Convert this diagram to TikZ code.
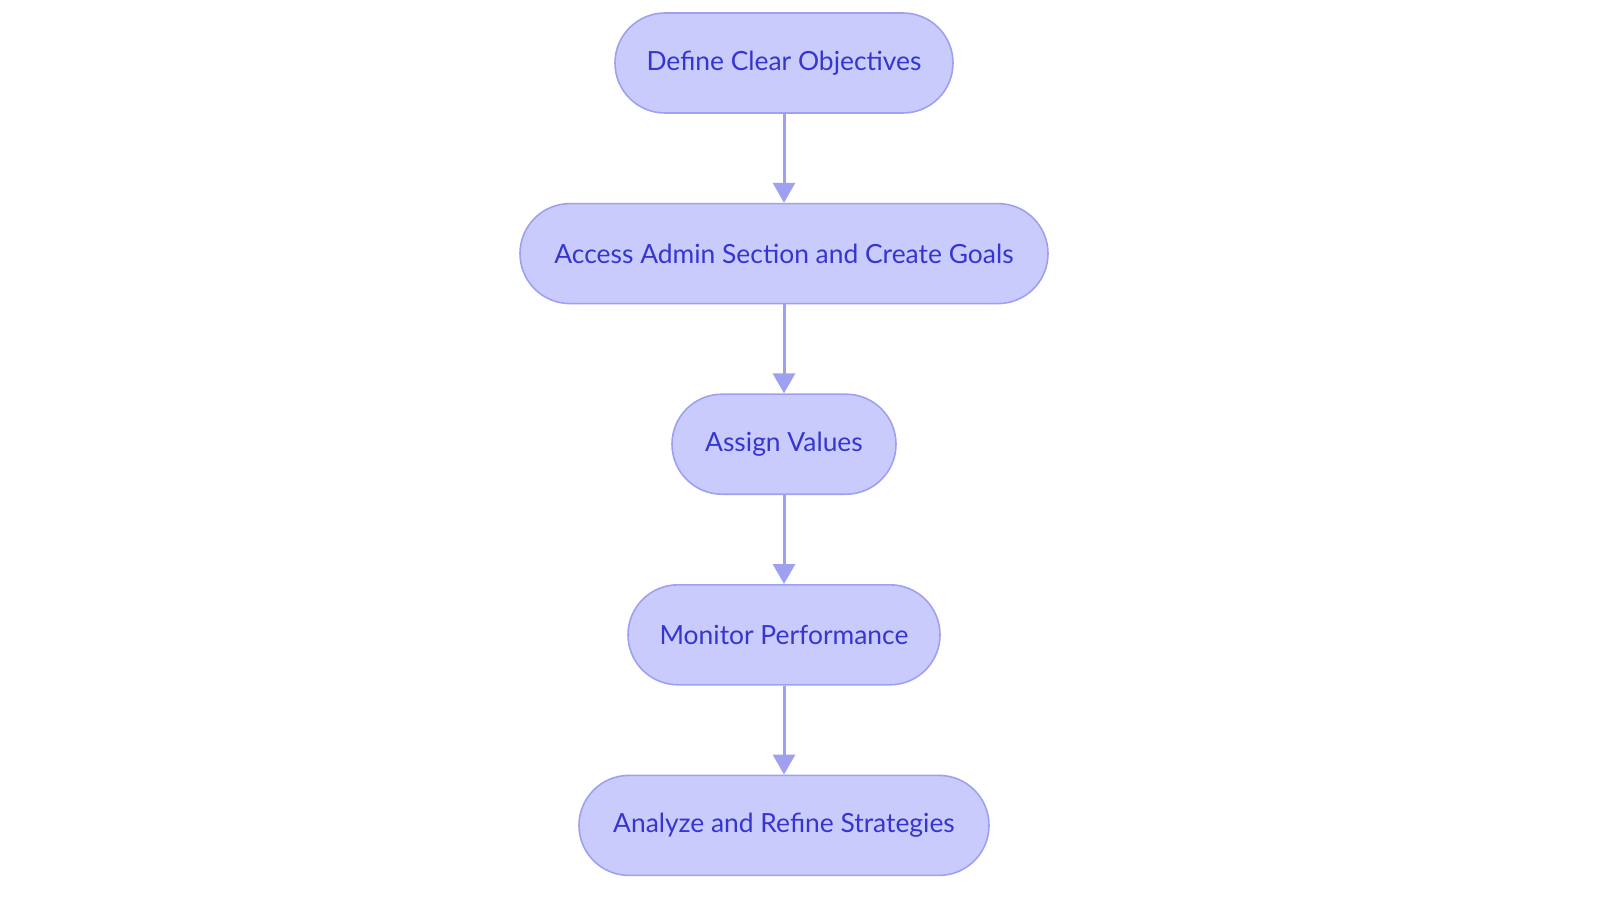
\documentclass[tikz,border=0pt]{standalone}
\usepackage{fontspec}
\setmainfont{Lato}
\usetikzlibrary{positioning,arrows.meta}
\definecolor{stepfill}{HTML}{CACBFD}
\definecolor{stepdraw}{HTML}{9FA0F0}
\definecolor{steptext}{HTML}{3535CF}
\tikzset{
  stage/.style={rectangle, rounded corners=25pt, fill=stepfill, draw=stepdraw, thick,
    minimum height=50pt, text=steptext, font=\fontsize{13.2}{16}\selectfont},
  flow/.style={draw=stepdraw, line width=1.5pt, -{Triangle[width=11pt,length=10pt]}}
}
\begin{document}
\begin{tikzpicture}[node distance=44.5pt]
  \useasboundingbox (0,0) rectangle (800pt,-451.5pt);
  \node (objectives) at (392pt,-31.5pt) [stage, minimum width=169pt] {Define Clear Objectives};
  \node (admin) [stage, below=of objectives, minimum width=264pt] {Access Admin Section and Create Goals};
  \node (values) [stage, below=of admin, minimum width=112pt] {Assign Values};
  \node (monitor) [stage, below=of values, minimum width=156pt] {Monitor Performance};
  \node (analyze) [stage, below=of monitor, minimum width=205pt] {Analyze and Refine Strategies};

  \draw [flow] (objectives) -- (admin);
  \draw [flow] (admin) -- (values);
  \draw [flow] (values) -- (monitor);
  \draw [flow] (monitor) -- (analyze);
\end{tikzpicture}
\end{document}
